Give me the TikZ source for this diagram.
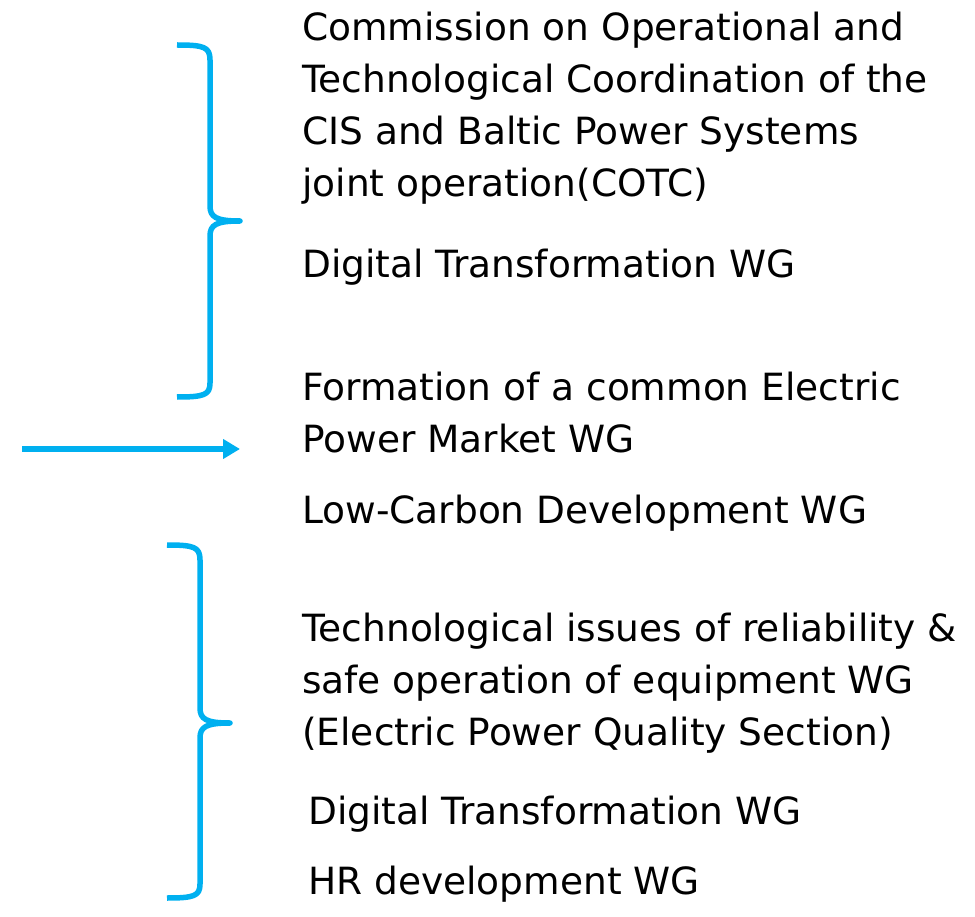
\documentclass[tikz,border=0pt]{standalone}
\usepackage{fontspec}
\setmainfont{DejaVu Sans}
\usetikzlibrary{positioning}
\usetikzlibrary{arrows.meta}

\definecolor{cotcblue}{HTML}{00B0F0}

\begin{document}
\begin{tikzpicture}[x=1pt, y=-1pt,
    every node/.style={anchor=base west, inner sep=0pt, align=left, font=\fontsize{37.5}{52}\selectfont},
    brace/.style={draw=cotcblue, line width=5.5pt, line join=round}]
        \useasboundingbox (0,0) rectangle (975,917);

        % base anchor = baseline of the last line
        \node (cotc) at (302,197) {Commission on Operational and\\ Technological Coordination of the\\ CIS and Baltic Power Systems\\ joint operation(COTC)};
        \node (digital) at (302,278) {Digital Transformation WG};
        \node (market) at (302,452) {Formation of a common Electric\\ Power Market WG};
        \node (lowcarbon) at (302,523) {Low-Carbon Development WG};
        \node (reliability) at (302,745) {Technological issues of reliability \&\\ safe operation of equipment WG\\ (Electric Power Quality Section)};
        \node (digital2) at (308,824) {Digital Transformation WG};
        \node (hr) at (308,894) {HR development WG};

        % upper brace
        \draw[brace] (177,45) .. controls (204,45) and (210,47) .. (210,60) -- (210,206)
            .. controls (210,217) and (216,221) .. (240,221)
            .. controls (216,221) and (210,225) .. (210,236) -- (210,383)
            .. controls (210,395) and (204,397) .. (177,397);

        % lower brace
        \draw[brace] (167,545) .. controls (194,545) and (200,547) .. (200,560) -- (200,708)
            .. controls (200,719) and (206,723) .. (230,723)
            .. controls (206,723) and (200,727) .. (200,738) -- (200,884)
            .. controls (200,896) and (194,898) .. (167,898);

        \coordinate (arrow tail) at (22,449);
        \coordinate (arrow head) at (240,449);
        \draw[draw=cotcblue, line width=6pt, -{Triangle[length=17pt, width=19pt]}] (arrow tail) -- (arrow head);
    \end{tikzpicture}
\end{document}
